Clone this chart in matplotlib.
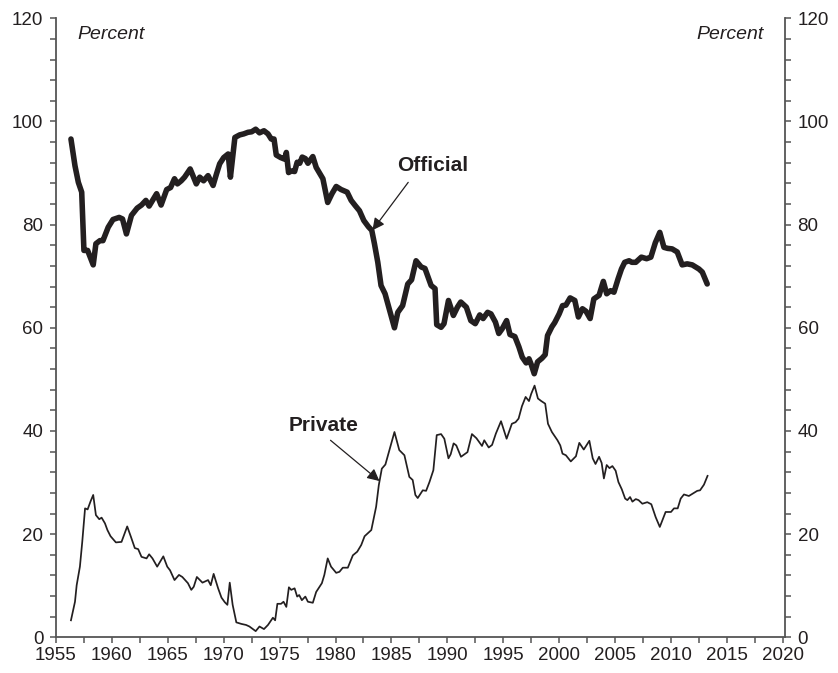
import matplotlib
matplotlib.use("Agg")
import matplotlib.pyplot as plt
import numpy as np

plt.rcParams['font.family'] = ['Liberation Sans', 'DejaVu Sans']

# ---- data ----
official_years = [1956.34, 1956.7, 1957.0, 1957.3, 1957.5, 1957.83, 1958.33, 1958.57, 1958.93, 1959.2,
                  1959.67, 1960.1, 1960.65, 1960.95, 1961.3, 1961.75, 1962.26, 1962.65, 1963.04, 1963.33,
                  1964.0, 1964.4, 1964.9, 1965.25, 1965.6, 1965.86, 1966.2, 1966.5, 1967.0, 1967.55,
                  1967.86, 1968.2, 1968.6, 1969.05, 1969.35, 1969.64, 1970.0, 1970.4, 1970.6, 1971.0,
                  1971.43, 1971.8, 1972.17, 1972.5, 1972.86, 1973.2, 1973.6, 1973.96, 1974.25, 1974.5,
                  1974.7, 1975.1, 1975.45, 1975.6, 1975.8, 1976.05, 1976.34, 1976.57, 1976.8, 1977.02,
                  1977.3, 1977.53, 1977.97, 1978.27, 1978.87, 1979.3, 1979.68, 1980.06, 1980.5, 1981.04,
                  1981.4, 1981.76, 1982.14, 1982.53, 1982.94, 1983.24, 1983.48, 1983.78, 1984.07, 1984.43,
                  1984.82, 1985.27, 1985.57, 1986.0, 1986.46, 1986.8, 1987.2, 1987.66, 1988.0, 1988.55,
                  1988.9, 1989.05, 1989.44, 1989.7, 1990.1, 1990.54, 1990.9, 1991.2, 1991.7, 1992.1,
                  1992.5, 1992.9, 1993.2, 1993.6, 1993.9, 1994.3, 1994.6, 1994.9, 1995.3, 1995.6,
                  1996.04, 1996.4, 1996.7, 1997.05, 1997.3, 1997.5, 1997.77, 1998.07, 1998.46, 1998.75,
                  1998.96, 1999.35, 1999.6, 2000.0, 2000.3, 2000.6, 2000.98, 2001.4, 2001.72, 2002.08,
                  2002.4, 2002.77, 2003.1, 2003.57, 2003.95, 2004.25, 2004.6, 2004.9, 2005.27, 2005.57,
                  2005.86, 2006.25, 2006.5, 2006.85, 2007.35, 2007.82, 2008.2, 2008.6, 2009.0, 2009.37,
                  2009.7, 2010.1, 2010.56, 2011.0, 2011.45, 2011.9, 2012.2, 2012.5, 2012.8, 2013.24]
official_values = [96.6, 91.4, 88.2, 86.3, 75.0, 75.0, 72.2, 76.3, 76.9, 76.9,
                   79.5, 81.0, 81.4, 81.1, 78.2, 81.8, 83.2, 83.8, 84.7, 83.6,
                   86.0, 83.8, 86.8, 87.2, 88.9, 87.9, 88.5, 89.2, 90.8, 87.9,
                   89.2, 88.5, 89.5, 87.6, 89.8, 91.8, 93.0, 93.7, 89.2, 96.9,
                   97.4, 97.6, 97.9, 98.0, 98.5, 97.8, 98.2, 97.6, 96.6, 96.6,
                   93.5, 93.0, 92.7, 94.0, 90.1, 90.4, 90.3, 92.1, 91.9, 93.1,
                   92.8, 91.9, 93.2, 91.1, 88.9, 84.3, 86.0, 87.4, 86.8, 86.3,
                   84.7, 83.7, 82.7, 80.8, 79.6, 78.9, 76.3, 72.7, 68.2, 66.6,
                   63.5, 60.0, 63.0, 64.3, 68.5, 69.3, 73.0, 71.8, 71.5, 68.2,
                   67.6, 60.6, 60.1, 60.8, 65.3, 62.4, 64.0, 65.0, 64.0, 61.4,
                   60.8, 62.5, 61.8, 63.0, 62.7, 61.1, 58.9, 59.8, 61.4, 58.7,
                   58.3, 56.3, 54.3, 53.2, 54.0, 52.9, 51.1, 53.4, 54.1, 54.8,
                   58.5, 60.2, 61.0, 62.7, 64.3, 64.4, 65.8, 65.3, 62.1, 63.7,
                   63.2, 61.8, 65.6, 66.3, 69.0, 66.6, 67.2, 66.9, 69.5, 71.4,
                   72.7, 73.0, 72.7, 72.7, 73.7, 73.4, 73.7, 76.5, 78.5, 75.6,
                   75.4, 75.3, 74.7, 72.2, 72.4, 72.2, 71.8, 71.4, 70.8, 68.5]

private_years = [1956.34, 1956.7, 1956.85, 1957.14, 1957.35, 1957.6, 1957.83, 1958.1, 1958.33, 1958.57,
                 1958.87, 1959.08, 1959.38, 1959.6, 1959.88, 1960.36, 1960.86, 1961.37, 1961.7, 1962.05,
                 1962.35, 1962.65, 1963.1, 1963.33, 1963.63, 1964.05, 1964.6, 1964.95, 1965.2, 1965.6,
                 1966.0, 1966.3, 1966.8, 1967.1, 1967.32, 1967.6, 1968.1, 1968.6, 1968.84, 1969.1,
                 1969.5, 1969.8, 1970.1, 1970.33, 1970.54, 1970.8, 1971.13, 1971.58, 1972.0, 1972.3,
                 1972.86, 1973.2, 1973.6, 1973.96, 1974.4, 1974.6, 1974.8, 1975.13, 1975.35, 1975.6,
                 1975.83, 1976.04, 1976.34, 1976.57, 1976.75, 1976.99, 1977.3, 1977.53, 1977.97, 1978.27,
                 1978.78, 1979.0, 1979.3, 1979.6, 1980.06, 1980.35, 1980.65, 1981.1, 1981.55, 1981.94,
                 1982.3, 1982.6, 1983.2, 1983.63, 1983.87, 1984.14, 1984.46, 1984.82, 1985.27, 1985.7,
                 1986.16, 1986.6, 1986.9, 1987.14, 1987.35, 1987.8, 1988.1, 1988.4, 1988.75, 1989.05,
                 1989.44, 1989.73, 1990.1, 1990.3, 1990.56, 1990.8, 1991.22, 1991.8, 1992.2, 1992.6,
                 1993.1, 1993.3, 1993.7, 1994.0, 1994.34, 1994.8, 1995.3, 1995.77, 1996.1, 1996.37,
                 1996.67, 1997.0, 1997.3, 1997.5, 1997.8, 1998.1, 1998.4, 1998.75, 1999.0, 1999.35,
                 1999.6, 1999.85, 2000.1, 2000.3, 2000.6, 2001.04, 2001.5, 2001.8, 2002.2, 2002.7,
                 2003.0, 2003.25, 2003.57, 2003.8, 2004.0, 2004.25, 2004.5, 2004.76, 2005.05, 2005.3,
                 2005.6, 2005.9, 2006.1, 2006.34, 2006.55, 2006.85, 2007.1, 2007.44, 2007.88, 2008.24,
                 2008.63, 2009.0, 2009.52, 2010.0, 2010.27, 2010.6, 2010.87, 2011.16, 2011.6, 2011.9,
                 2012.35, 2012.6, 2012.95, 2013.27]
private_values = [3.3, 6.9, 10.1, 13.7, 18.5, 25.0, 24.8, 26.4, 27.6, 23.7,
                  22.9, 23.2, 22.1, 20.8, 19.6, 18.4, 18.5, 21.5, 19.5, 17.3,
                  17.1, 15.6, 15.3, 16.1, 15.3, 13.7, 15.7, 13.7, 13.0, 11.1,
                  12.1, 11.7, 10.5, 9.2, 9.8, 11.7, 10.6, 11.1, 10.1, 12.3,
                  9.5, 7.7, 6.8, 6.3, 10.6, 6.3, 2.9, 2.6, 2.4, 2.1,
                  1.2, 2.1, 1.6, 2.4, 3.8, 3.3, 6.5, 6.5, 6.9, 5.9,
                  9.7, 9.2, 9.5, 7.9, 8.2, 7.2, 7.9, 6.9, 6.7, 8.8,
                  10.5, 12.1, 15.3, 13.7, 12.5, 12.7, 13.5, 13.5, 15.9, 16.6,
                  17.9, 19.6, 20.8, 25.3, 29.5, 32.7, 33.5, 36.3, 39.8, 36.3,
                  35.3, 31.1, 30.5, 27.6, 27.0, 28.5, 28.4, 30.1, 32.4, 39.2,
                  39.4, 38.5, 34.7, 35.5, 37.6, 37.2, 35.0, 35.9, 39.4, 38.6,
                  37.1, 38.2, 36.8, 37.3, 39.5, 41.9, 38.5, 41.4, 41.7, 42.4,
                  44.8, 46.6, 45.8, 47.2, 48.8, 46.3, 45.8, 45.3, 41.4, 39.8,
                  39.0, 38.2, 37.2, 35.6, 35.3, 34.1, 35.1, 37.7, 36.4, 38.1,
                  34.7, 33.6, 35.0, 33.8, 30.8, 33.4, 32.8, 33.2, 32.3, 30.1,
                  28.7, 26.9, 26.6, 27.2, 26.3, 26.8, 26.6, 25.9, 26.2, 25.8,
                  23.3, 21.4, 24.3, 24.3, 25.0, 25.0, 26.9, 27.7, 27.4, 27.8,
                  28.4, 28.5, 29.6, 31.3]

x_major = [1955, 1960, 1965, 1970, 1975, 1980, 1985, 1990, 1995, 2000, 2005, 2010, 2015, 2020]
y_major = [0, 20, 40, 60, 80, 100, 120]

INK = '#231f20'
AXC = '#555555'

fig = plt.figure(figsize=(8.38, 6.73), dpi=100)
ax = fig.add_axes([0.0668, 0.053, 0.8700, 0.9198])

ax.plot(official_years, official_values, color=INK, lw=4.0, solid_joinstyle='round', solid_capstyle='round')
ax.plot(private_years, private_values, color=INK, lw=1.25, solid_joinstyle='round')

ax.set_xlim(1955, 2020.2)
ax.set_ylim(0, 120)

ax.set_xticks(x_major)
ax.set_xticks(np.arange(1957.5, 2020, 5), minor=True)
ax.set_yticks(y_major)
ax.set_yticks([v for v in range(0, 121, 4) if v % 20], minor=True)

ax.tick_params(axis='both', which='both', direction='out', length=4, width=1.1, color=AXC,
               labelsize=13.5, labelcolor=INK)
ax.tick_params(axis='y', which='both', left=True, right=True, labelleft=True, labelright=True, pad=5)
ax.tick_params(axis='x', which='both', pad=3)

for s in ['left', 'right', 'bottom']:
    ax.spines[s].set_color(AXC)
    ax.spines[s].set_linewidth(1.3)
ax.spines['top'].set_visible(False)

ax.text(1956.9, 116.8, 'Percent', fontsize=14, style='italic', color=INK, ha='left', va='center')
ax.text(2018.3, 116.8, 'Percent', fontsize=14, style='italic', color=INK, ha='right', va='center')

ax.annotate('', xy=(1983.3, 78.9), xytext=(1986.5, 88.2),
            arrowprops=dict(arrowstyle='-|>', color=INK, lw=0.9, mutation_scale=18, shrinkA=0, shrinkB=0))
ax.text(1988.7, 91.4, 'Official', fontsize=15, fontweight='bold', color=INK, ha='center', va='center')

ax.annotate('', xy=(1983.93, 30.3), xytext=(1979.55, 38.2),
            arrowprops=dict(arrowstyle='-|>', color=INK, lw=0.9, mutation_scale=18, shrinkA=0, shrinkB=0))
ax.text(1978.9, 41.1, 'Private', fontsize=15, fontweight='bold', color=INK, ha='center', va='center')

fig.savefig('out.png', dpi=100)
